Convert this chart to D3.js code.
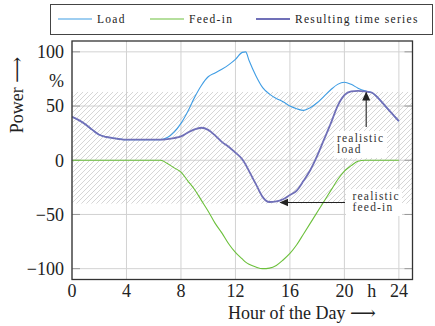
<!DOCTYPE html>
<html>
<head>
<meta charset="utf-8">
<script src="https://cdn.jsdelivr.net/npm/d3@7"></script>
<style>
    body { margin: 0; background: #fff; }
    svg { display: block; }
    text { font-family: "Liberation Serif", "DejaVu Serif", serif; }
    .tick-label { font-size: 18px; fill: #222; }
    .legend-text { font-size: 11.5px; letter-spacing: 1.3px; fill: #222; }
    .note { font-size: 11.5px; letter-spacing: 1.2px; fill: #333; }
</style>
</head>
<body>
<svg id="chart"></svg>
<script>
const hours = [0, 0.5, 1, 1.5, 2, 2.5, 3, 3.5, 4, 4.5, 5, 5.5, 6, 6.5, 7, 7.5, 8, 8.5, 9, 9.5,
    10, 10.5, 11, 11.5, 12, 12.5, 12.75, 13, 13.5, 14, 14.5, 15, 15.5, 16, 16.5, 17, 17.5, 18,
    18.5, 19, 19.5, 20, 20.5, 21, 21.5, 22, 22.5, 23, 23.5, 24];

const loadValues = [40, 37, 33, 28, 23.5, 21.5, 20.5, 19.5, 19, 19, 19, 19, 19, 19, 21, 26, 34, 45, 58, 69,
    77, 80.5, 84, 88, 93, 99.5, 100, 92, 78, 67, 61, 57, 54, 50, 47.5, 46, 48.5, 53,
    59, 65, 70, 72, 70, 66.5, 64, 62.5, 57, 50, 43, 36];

const feedInValues = [0, 0, 0, 0, 0, 0, 0, 0, 0, 0, 0, 0, 0, 0, -3, -7, -11, -19, -27, -37,
    -47, -58, -67, -77, -85, -91, -94, -96, -98.5, -100, -99.5, -97, -92, -86, -78, -68, -58, -48,
    -38, -28, -18, -10, -5, -1, 0, 0, 0, 0, 0, 0];

const resultValues = [40, 37, 33, 28, 23.5, 21.5, 20.5, 19.5, 19, 19, 19, 19, 19, 19, 19.5, 20.5, 22, 25.5, 28.5, 30,
    28, 23, 17, 12.5, 7, 1, -4, -10, -22, -34, -38.5, -38, -36, -32, -28, -19, -9, 4,
    19, 34, 50, 60, 63.5, 64, 63.5, 62.5, 57, 50, 43, 36];

const xTicks = [0, 4, 8, 12, 16, 20, 24];
const yTicks = [-100, -50, 0, 50, 100];
const xUnit = { at: 22, label: 'h' };
const yUnit = { at: 75, label: '%' };
const band = [-40, 63];

const seriesNames = ['Load', 'Feed-in', 'Resulting time series'];
const seriesColors = ['#3f9de4', '#6cc03c', '#7070b8'];

const width = 435;
const height = 326;
const plot = { left: 72, right: 412.5, top: 41, bottom: 279.5 };

const svg = d3.select('#chart')
    .attr('width', width)
    .attr('height', height);

const x = d3.scaleLinear().domain([0, 25]).range([plot.left, plot.right]);
const y = d3.scaleLinear().domain([-110, 110]).range([plot.bottom, plot.top]);

const defs = svg.append('defs');

defs.append('pattern')
    .attr('id', 'hatch')
    .attr('patternUnits', 'userSpaceOnUse')
    .attr('width', 5)
    .attr('height', 5)
    .append('path')
    .attr('d', 'M-1,1L1,-1M0,5L5,0M4,6L6,4')
    .attr('stroke', '#c4c4c4')
    .attr('stroke-width', 0.7);

defs.append('clipPath')
    .attr('id', 'plot-clip')
    .append('rect')
    .attr('x', plot.left)
    .attr('y', plot.top)
    .attr('width', plot.right - plot.left)
    .attr('height', plot.bottom - plot.top);

defs.append('marker')
    .attr('id', 'arrow')
    .attr('viewBox', '0 -5 10 10')
    .attr('refX', 9)
    .attr('refY', 0)
    .attr('markerWidth', 9)
    .attr('markerHeight', 9)
    .attr('markerUnits', 'userSpaceOnUse')
    .attr('orient', 'auto')
    .append('path')
    .attr('d', 'M0,-4.5L10,0L0,4.5Z')
    .attr('fill', '#222');

// grid
const grid = svg.append('g');
grid.selectAll('.gx')
    .data(xTicks)
    .enter().append('line')
    .attr('x1', d => x(d))
    .attr('x2', d => x(d))
    .attr('y1', plot.top)
    .attr('y2', plot.bottom)
    .attr('stroke', '#d2d2d2')
    .attr('stroke-width', 1);
grid.selectAll('.gy')
    .data(yTicks)
    .enter().append('line')
    .attr('x1', plot.left)
    .attr('x2', plot.right)
    .attr('y1', d => y(d))
    .attr('y2', d => y(d))
    .attr('stroke', '#d2d2d2')
    .attr('stroke-width', 1);

// hatched band
svg.append('rect')
    .attr('clip-path', 'url(#plot-clip)')
    .attr('x', plot.left)
    .attr('y', y(band[1]))
    .attr('width', plot.right - plot.left)
    .attr('height', y(band[0]) - y(band[1]))
    .attr('fill', 'url(#hatch)');

// small inward ticks
const ticks = svg.append('g').attr('stroke', '#999').attr('stroke-width', 1);
yTicks.forEach(v => {
    ticks.append('line').attr('x1', plot.left).attr('x2', plot.left + 8).attr('y1', y(v)).attr('y2', y(v));
    ticks.append('line').attr('x1', plot.right).attr('x2', plot.right - 8).attr('y1', y(v)).attr('y2', y(v));
});

// annotation boxes
const notes = [
    { lines: ['realistic', 'load'], x: 337, y: 141.5, box: [334, 131, 53, 27] },
    { lines: ['realistic', 'feed-in'], x: 352.5, y: 199.5, box: [346, 189, 56, 27] }
];
notes.forEach(n => {
    svg.append('rect')
        .attr('x', n.box[0]).attr('y', n.box[1])
        .attr('width', n.box[2]).attr('height', n.box[3])
        .attr('fill', '#fff');
});

// series
const seriesData = [loadValues, feedInValues, resultValues];
const lineWidths = [1.1, 1.1, 1.8];
const line = d3.line()
    .x((d, i) => x(hours[i]))
    .y(d => y(d))
    .curve(d3.curveMonotoneX);

svg.append('g')
    .attr('clip-path', 'url(#plot-clip)')
    .selectAll('path')
    .data(seriesData)
    .enter().append('path')
    .attr('d', d => line(d))
    .attr('fill', 'none')
    .attr('stroke', (d, i) => seriesColors[i])
    .attr('stroke-width', (d, i) => lineWidths[i])
    .attr('stroke-linejoin', 'round');

// annotation texts and arrows
notes.forEach(n => {
    const t = svg.append('text').attr('class', 'note').attr('x', n.x).attr('y', n.y);
    n.lines.forEach((l, i) => {
        t.append('tspan').attr('x', n.x).attr('dy', i === 0 ? 0 : 11.5).text(l);
    });
});

svg.append('line')
    .attr('x1', x(21.6)).attr('x2', x(21.6))
    .attr('y1', 127).attr('y2', y(62.5))
    .attr('stroke', '#222').attr('stroke-width', 1.1)
    .attr('marker-end', 'url(#arrow)');

svg.append('line')
    .attr('x1', 345).attr('x2', x(15.3))
    .attr('y1', y(-39)).attr('y2', y(-39))
    .attr('stroke', '#222').attr('stroke-width', 1.1)
    .attr('marker-end', 'url(#arrow)');

// frame
svg.append('rect')
    .attr('x', plot.left)
    .attr('y', plot.top)
    .attr('width', plot.right - plot.left)
    .attr('height', plot.bottom - plot.top)
    .attr('fill', 'none')
    .attr('stroke', '#333')
    .attr('stroke-width', 1.3);

// tick labels
svg.append('g')
    .selectAll('text')
    .data(yTicks)
    .enter().append('text')
    .attr('class', 'tick-label')
    .attr('x', 64)
    .attr('y', d => y(d))
    .attr('dy', '0.35em')
    .attr('text-anchor', 'end')
    .text(d => d < 0 ? '\u2212' + Math.abs(d) : d);

svg.append('text')
    .attr('class', 'tick-label')
    .attr('x', 64)
    .attr('y', y(yUnit.at))
    .attr('dy', '0.45em')
    .attr('text-anchor', 'end')
    .text(yUnit.label);

svg.append('g')
    .selectAll('text')
    .data(xTicks)
    .enter().append('text')
    .attr('class', 'tick-label')
    .attr('x', d => x(d))
    .attr('y', 297)
    .attr('text-anchor', 'middle')
    .text(d => d);

svg.append('text')
    .attr('class', 'tick-label')
    .attr('x', x(xUnit.at))
    .attr('y', 297)
    .attr('text-anchor', 'middle')
    .text(xUnit.label);

// axis titles
svg.append('text')
    .attr('class', 'tick-label')
    .attr('x', 228)
    .attr('y', 319)
    .text('Hour of the Day \u27F6');

svg.append('text')
    .attr('class', 'tick-label')
    .attr('transform', 'translate(23,95) rotate(-90)')
    .attr('text-anchor', 'middle')
    .text('Power \u27F6');

// legend
const legend = svg.append('g');
legend.append('rect')
    .attr('x', 50.5)
    .attr('y', 4.5)
    .attr('width', 382)
    .attr('height', 30)
    .attr('fill', '#fff')
    .attr('stroke', '#444')
    .attr('stroke-width', 1);

const legendX = [58, 150, 256];
seriesNames.forEach((name, i) => {
    legend.append('line')
        .attr('x1', legendX[i]).attr('x2', legendX[i] + 34)
        .attr('y1', 19).attr('y2', 19)
        .attr('stroke', seriesColors[i])
        .attr('stroke-width', lineWidths[i]);
    legend.append('text')
        .attr('class', 'legend-text')
        .attr('x', legendX[i] + 39)
        .attr('y', 23)
        .text(name);
});
</script>
</body>
</html>
